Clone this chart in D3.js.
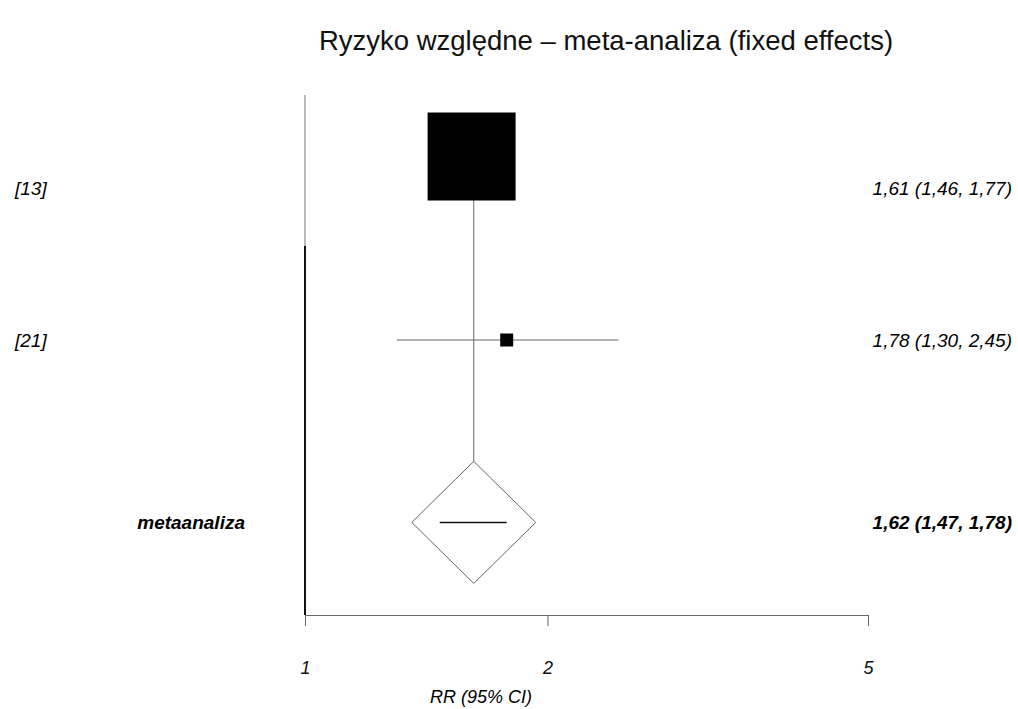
<!DOCTYPE html>
<html>
<head>
<meta charset="utf-8">
<script src="https://cdn.jsdelivr.net/npm/d3@7"></script>
<style>
  body { margin: 0; background: #fff; }
  text { font-family: "Liberation Sans", Arial, sans-serif; }
</style>
</head>
<body>
<div id="chart"></div>
<script>
// study data
const studies = ["[13]", "[21]"];
const rr = [1.61, 1.78];
const lower = [1.46, 1.30];
const upper = [1.77, 2.45];
const weights = [91.5, 8.5];
const pooledLabel = "metaanaliza";
const pooled = {rr: 1.62, lower: 1.47, upper: 1.78};
const tickValues = [1, 2, 5];

const fmt = v => d3.format(".2f")(v).replace(".", ",");
const ciText = (e, l, u) => `${fmt(e)} (${fmt(l)}, ${fmt(u)})`;

const width = 1018, height = 709;

const svg = d3.select("#chart")
  .append("svg")
  .attr("width", width)
  .attr("height", height);

const x = d3.scaleLog()
  .domain([1, 5])
  .range([305, 868]);

// row positions, pooled row sits a bit lower
const y = d3.scaleLinear()
  .domain([0, 1])
  .range([188, 340]);
const pooledY = y(2.2);

const size = d3.scaleLinear()
  .domain([d3.min(weights), d3.max(weights)])
  .range([13, 88]);

// title
svg.append("text")
  .attr("x", 606)
  .attr("y", 50)
  .attr("text-anchor", "middle")
  .style("font-size", "27.5px")
  .style("fill", "#111")
  .text("Ryzyko względne – meta-analiza (fixed effects)");

// line of no effect
svg.append("line")
  .attr("x1", x(1)).attr("x2", x(1))
  .attr("y1", 95).attr("y2", 246)
  .attr("stroke", "#777").attr("stroke-width", 1);
svg.append("line")
  .attr("x1", x(1)).attr("x2", x(1))
  .attr("y1", 246).attr("y2", 615)
  .attr("stroke", "#111").attr("stroke-width", 2);

// pooled estimate line
const dHalfW = 62, dHalfH = 61;
svg.append("line")
  .attr("x1", x(pooled.rr)).attr("x2", x(pooled.rr))
  .attr("y1", y(0)).attr("y2", pooledY - dHalfH)
  .attr("stroke", "#666").attr("stroke-width", 1);

const rows = studies.map((s, i) => ({name: s, rr: rr[i], lo: lower[i], hi: upper[i], w: weights[i], i}));

// CI lines
svg.append("g")
  .selectAll("line")
  .data(rows)
  .join("line")
  .attr("x1", d => x(d.lo))
  .attr("x2", d => x(d.hi))
  .attr("y1", d => y(d.i))
  .attr("y2", d => y(d.i))
  .attr("stroke", "#666")
  .attr("stroke-width", 1);

// weight squares
svg.append("g")
  .selectAll("rect")
  .data(rows)
  .join("rect")
  .attr("x", d => x(d.rr) - size(d.w) / 2)
  .attr("y", d => y(d.i) - (size(d.w) - 13) * 0.42 - size(d.w) / 2)
  .attr("width", d => size(d.w))
  .attr("height", d => size(d.w))
  .attr("fill", "#000");

// pooled diamond
const cx = x(pooled.rr);
svg.append("path")
  .attr("d", `M${cx},${pooledY - dHalfH} L${cx + dHalfW},${pooledY} L${cx},${pooledY + dHalfH} L${cx - dHalfW},${pooledY} Z`)
  .attr("fill", "#fff")
  .attr("stroke", "#666")
  .attr("stroke-width", 1);
svg.append("line")
  .attr("x1", x(pooled.lower)).attr("x2", x(pooled.upper))
  .attr("y1", pooledY).attr("y2", pooledY)
  .attr("stroke", "#111").attr("stroke-width", 1.5);

// left labels
svg.append("g")
  .selectAll("text")
  .data(rows)
  .join("text")
  .attr("x", 15)
  .attr("y", d => y(d.i) + 7)
  .style("font-size", "19px")
  .style("font-style", "italic")
  .text(d => d.name);

svg.append("text")
  .attr("x", 245)
  .attr("y", pooledY + 7)
  .attr("text-anchor", "end")
  .style("font-size", "19px")
  .style("font-style", "italic")
  .style("font-weight", "bold")
  .text(pooledLabel);

// right labels
svg.append("g")
  .selectAll("text")
  .data(rows)
  .join("text")
  .attr("x", 1012)
  .attr("y", d => y(d.i) + 7)
  .attr("text-anchor", "end")
  .style("font-size", "19px")
  .style("font-style", "italic")
  .text(d => ciText(d.rr, d.lo, d.hi));

svg.append("text")
  .attr("x", 1012)
  .attr("y", pooledY + 7)
  .attr("text-anchor", "end")
  .style("font-size", "19px")
  .style("font-style", "italic")
  .style("font-weight", "bold")
  .text(ciText(pooled.rr, pooled.lower, pooled.upper));

// x axis
const axis = svg.append("g")
  .attr("transform", "translate(0,615)")
  .call(d3.axisBottom(x)
    .tickValues(tickValues)
    .tickFormat(d3.format("d"))
    .tickSize(11)
    .tickSizeOuter(0)
    .tickPadding(35));
axis.select(".domain").attr("stroke", "#666");
axis.selectAll(".tick line").attr("stroke", "#666");
axis.selectAll(".tick text")
  .style("font-family", "'Liberation Sans', Arial, sans-serif")
  .style("font-size", "18px")
  .style("font-style", "italic")
  .attr("fill", "#111");

svg.append("text")
  .attr("x", 481)
  .attr("y", 703)
  .attr("text-anchor", "middle")
  .style("font-size", "18px")
  .style("font-style", "italic")
  .text("RR (95% CI)");
</script>
</body>
</html>
